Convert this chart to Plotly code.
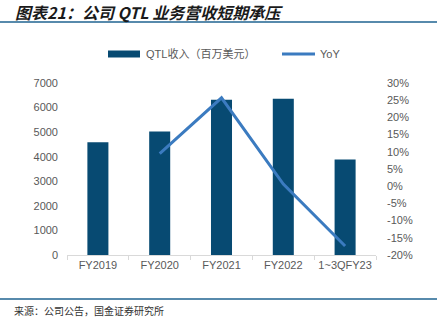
import plotly.graph_objects as go

# QTL revenue (USD mn) and year-over-year growth (%)
categories = ["FY2019", "FY2020", "FY2021", "FY2022", "1~3QFY23"]
qtl_revenue = [4590, 5030, 6320, 6360, 3890]
yoy_categories = ["FY2020", "FY2021", "FY2022", "1~3QFY23"]
yoy_pct = [9.5, 25.7, 0.6, -17.4]
pct_ticks = [30, 25, 20, 15, 10, 5, 0, -5, -10, -15, -20]
pct_labels = [f"{v}%" for v in pct_ticks]

bar_color = "#074a72"
line_color = "#3b7bc0"
rule_color = "#1f6391"
tick_color = "#595959"
base_font = "Liberation Sans, Arial, Noto Sans CJK SC, sans-serif"

fig = go.Figure()
fig.add_trace(go.Bar(
    x=categories, y=qtl_revenue, name="QTL收入（百万美元）",
    marker=dict(color=bar_color, line=dict(width=0)),
    yaxis="y",
))
fig.add_trace(go.Scatter(
    x=yoy_categories, y=yoy_pct, name="YoY", mode="lines",
    line=dict(color=line_color, width=3),
    yaxis="y2",
))

W, H = 437, 323
L, R, T, B = 67, 61, 83, 68
plot_h = H - T - B
plot_w = W - L - R


def px_x(px):
    return (px - L) / plot_w


def px_y(py):
    return (H - B - py) / plot_h


legend_y = px_y(54)

fig.update_layout(
    width=W, height=H,
    margin=dict(l=L, r=R, t=T, b=B),
    paper_bgcolor="white", plot_bgcolor="white",
    font=dict(family=base_font, size=11, color=tick_color),
    bargap=0.66,
    showlegend=False,
    xaxis=dict(
        type="category", categoryorder="array", categoryarray=categories,
        showgrid=False, showline=True, linecolor="#d9d9d9", linewidth=1,
        ticks="outside", tickson="boundaries", ticklen=4, tickcolor="#d9d9d9",
        tickangle=0, tickfont=dict(size=11, color=tick_color),
    ),
    yaxis=dict(
        range=[0, 7000], dtick=1000, showgrid=False, zeroline=False,
        showline=False, ticks="", tickfont=dict(size=11, color=tick_color),
        ticklabelstandoff=8,
    ),
    yaxis2=dict(
        overlaying="y", side="right", range=[-20, 30],
        tickmode="array", tickvals=pct_ticks, ticktext=pct_labels,
        showgrid=False, zeroline=False, showline=False,
        ticks="", tickfont=dict(size=11, color=tick_color),
        ticklabelstandoff=10,
    ),
    shapes=[
        # header and footer rules
        dict(type="line", xref="paper", yref="paper",
             x0=px_x(0), x1=px_x(W), y0=px_y(22), y1=px_y(22),
             line=dict(color=rule_color, width=1.5)),
        dict(type="line", xref="paper", yref="paper",
             x0=px_x(0), x1=px_x(W), y0=px_y(299), y1=px_y(299),
             line=dict(color=rule_color, width=1.5)),
        # legend swatches
        dict(type="rect", xref="paper", yref="paper",
             x0=px_x(108), x1=px_x(140), y0=px_y(57.5), y1=px_y(50.5),
             fillcolor=bar_color, line=dict(width=0)),
        dict(type="line", xref="paper", yref="paper",
             x0=px_x(282), x1=px_x(315), y0=legend_y, y1=legend_y,
             line=dict(color=line_color, width=3)),
    ],
    annotations=[
        dict(text="<b><i>图表21：公司 QTL 业务营收短期承压</i></b>",
             xref="paper", yref="paper", x=px_x(13), y=px_y(12),
             xanchor="left", yanchor="middle", showarrow=False,
             font=dict(size=16, color="#1a1a1a",
                       family="Noto Sans CJK SC, Liberation Sans, sans-serif")),
        dict(text="来源：公司公告，国金证券研究所",
             xref="paper", yref="paper", x=px_x(12), y=px_y(310),
             xanchor="left", yanchor="middle", showarrow=False,
             font=dict(size=10, color="#333333",
                       family="Noto Sans CJK SC, sans-serif")),
        dict(text="QTL收入（百万美元）",
             xref="paper", yref="paper", x=px_x(144), y=legend_y,
             xanchor="left", yanchor="middle", showarrow=False,
             font=dict(size=11, color=tick_color)),
        dict(text="YoY",
             xref="paper", yref="paper", x=px_x(318), y=legend_y,
             xanchor="left", yanchor="middle", showarrow=False,
             font=dict(size=11, color=tick_color)),
    ],
)

fig.write_html("out.html")
